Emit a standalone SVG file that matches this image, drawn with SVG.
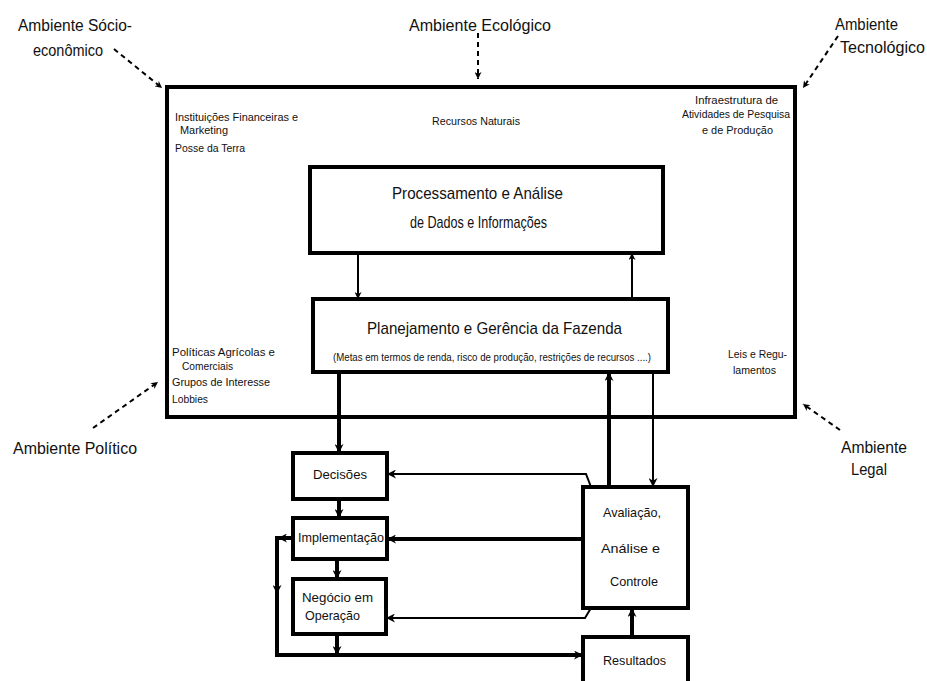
<svg xmlns="http://www.w3.org/2000/svg" width="927" height="681" viewBox="0 0 927 681">
<style>
text{font-family:"Liberation Sans",Arial,sans-serif;fill:#111}
.env{font-size:16px}
.sm{font-size:11px}
.bx{fill:#fff;stroke:#000;stroke-width:4}
.thk{fill:none;stroke:#000;stroke-width:4}
.thn{fill:none;stroke:#000;stroke-width:2}
.dash{fill:none;stroke:#000;stroke-width:2;stroke-dasharray:5 4}
</style>
<defs>
<marker id="ah" viewBox="0 0 10 10" refX="10" refY="5" markerWidth="10" markerHeight="9" markerUnits="userSpaceOnUse" orient="auto">
<path d="M0,0 L10,5 L0,10 L3,5 z" fill="#000"/>
</marker>
<marker id="ahs" viewBox="0 0 10 10" refX="10" refY="5" markerWidth="8" markerHeight="7" markerUnits="userSpaceOnUse" orient="auto">
<path d="M0,0 L10,5 L0,10 L3,5 z" fill="#000"/>
</marker>
</defs>

<g id="sistema">
<rect x="167" y="87" width="628" height="330" fill="none" stroke="#000" stroke-width="4"/>
<text class="sm" x="175" y="121" textLength="123" lengthAdjust="spacingAndGlyphs">Instituições  Financeiras  e</text>
<text class="sm" x="180" y="134" textLength="48" lengthAdjust="spacingAndGlyphs">Marketing</text>
<text class="sm" x="175" y="152" textLength="70" lengthAdjust="spacingAndGlyphs">Posse da Terra</text>
<text class="sm" x="432" y="125" textLength="88" lengthAdjust="spacingAndGlyphs">Recursos  Naturais</text>
<text class="sm" x="695" y="104" textLength="83" lengthAdjust="spacingAndGlyphs">Infraestrutura  de</text>
<text class="sm" x="682" y="118" textLength="108" lengthAdjust="spacingAndGlyphs">Atividades de Pesquisa</text>
<text class="sm" x="702" y="134" textLength="71" lengthAdjust="spacingAndGlyphs">e  de  Produção</text>
<text class="sm" x="172" y="356" textLength="103" lengthAdjust="spacingAndGlyphs">Políticas  Agrícolas  e</text>
<text class="sm" x="182" y="370" textLength="51" lengthAdjust="spacingAndGlyphs">Comerciais</text>
<text class="sm" x="172" y="386" textLength="98" lengthAdjust="spacingAndGlyphs">Grupos de Interesse</text>
<text class="sm" x="172" y="403" textLength="36" lengthAdjust="spacingAndGlyphs">Lobbies</text>
<text class="sm" x="728" y="358" textLength="59" lengthAdjust="spacingAndGlyphs">Leis  e  Regu-</text>
<text class="sm" x="733" y="374" textLength="43" lengthAdjust="spacingAndGlyphs">lamentos</text>
</g>

<g id="ambiente-socio">
<text class="env" x="18" y="31" textLength="114" lengthAdjust="spacingAndGlyphs">Ambiente Sócio-</text>
<text class="env" x="33" y="56" textLength="70" lengthAdjust="spacingAndGlyphs">econômico</text>
</g>
<g id="ambiente-ecologico">
<text class="env" x="409" y="31" textLength="142" lengthAdjust="spacingAndGlyphs">Ambiente Ecológico</text>
</g>
<g id="ambiente-tecnologico">
<text class="env" x="835" y="30" textLength="63" lengthAdjust="spacingAndGlyphs">Ambiente</text>
<text class="env" x="840" y="53" textLength="85" lengthAdjust="spacingAndGlyphs">Tecnológico</text>
</g>
<g id="ambiente-politico">
<text class="env" x="13" y="454" textLength="124" lengthAdjust="spacingAndGlyphs">Ambiente Político</text>
</g>
<g id="ambiente-legal">
<text class="env" x="841" y="453" textLength="66" lengthAdjust="spacingAndGlyphs">Ambiente</text>
<text class="env" x="851" y="475" textLength="36" lengthAdjust="spacingAndGlyphs">Legal</text>
</g>

<g id="processamento">
<rect class="bx" x="310" y="167" width="353" height="86" stroke-width="5"/>
<text x="392" y="199" font-size="17" textLength="171" lengthAdjust="spacingAndGlyphs">Processamento  e  Análise</text>
<text x="410" y="228" font-size="17" textLength="137" lengthAdjust="spacingAndGlyphs">de Dados e Informações</text>
</g>

<g id="planejamento">
<rect class="bx" x="313" y="299" width="355" height="73"/>
<text x="367" y="334" font-size="17" textLength="255" lengthAdjust="spacingAndGlyphs">Planejamento e Gerência da  Fazenda</text>
<text x="333" y="361" font-size="11" textLength="318" lengthAdjust="spacingAndGlyphs">(Metas em termos de renda,  risco de produção, restrições de recursos ....)</text>
</g>

<g id="decisoes">
<rect class="bx" x="293" y="453" width="94" height="46"/>
<text x="313" y="479" font-size="13" textLength="54" lengthAdjust="spacingAndGlyphs">Decisões</text>
</g>
<g id="implementacao">
<rect class="bx" x="293" y="518" width="94" height="41"/>
<text x="298" y="542" font-size="13" textLength="86" lengthAdjust="spacingAndGlyphs">Implementação</text>
</g>
<g id="negocio">
<rect class="bx" x="293" y="579" width="93" height="55"/>
<text x="302" y="602" font-size="13" textLength="71" lengthAdjust="spacingAndGlyphs">Negócio  em</text>
<text x="305" y="620" font-size="13" textLength="55" lengthAdjust="spacingAndGlyphs">Operação</text>
</g>
<g id="avaliacao">
<rect class="bx" x="583" y="487" width="105" height="121"/>
<text x="603" y="517" font-size="13" textLength="58" lengthAdjust="spacingAndGlyphs">Avaliação,</text>
<text x="601" y="553" font-size="13" textLength="59" lengthAdjust="spacingAndGlyphs">Análise   e</text>
<text x="610" y="586" font-size="13" textLength="48" lengthAdjust="spacingAndGlyphs">Controle</text>
</g>
<g id="resultados">
<rect class="bx" x="583" y="637" width="105" height="50"/>
<text x="603" y="665" font-size="13" textLength="63" lengthAdjust="spacingAndGlyphs">Resultados</text>
</g>

<g id="connectors">
<path class="dash" d="M114,49 L162,88" marker-end="url(#ahs)"/>
<path class="dash" d="M478,33 L478,79" marker-end="url(#ahs)"/>
<path class="dash" d="M838,36 L803,88" marker-end="url(#ahs)"/>
<path class="dash" d="M93,428 L158,382" marker-end="url(#ahs)"/>
<path class="dash" d="M840,430 L803,404" marker-end="url(#ahs)"/>

<path class="thn" d="M358,253 V299" marker-end="url(#ahs)"/>
<path class="thn" d="M632,299 V253" marker-end="url(#ahs)"/>

<path class="thk" d="M339,372 V453" marker-end="url(#ah)"/>
<path class="thk" d="M609,487 V372" marker-end="url(#ah)"/>
<path class="thn" d="M653,372 V487" marker-end="url(#ah)"/>

<path class="thk" d="M339,499 V518" marker-end="url(#ah)"/>
<path class="thk" d="M337,559 V579" marker-end="url(#ah)"/>
<path class="thk" d="M337,634 V655" marker-end="url(#ah)"/>

<path class="thn" d="M591,487 L586,474 H387" marker-end="url(#ah)"/>
<path class="thk" d="M583,539 H387" marker-end="url(#ah)"/>
<path class="thn" d="M591,608 L585,618 H386" marker-end="url(#ah)"/>

<path class="thk" d="M293,538 H278" marker-end="url(#ah)"/>
<path class="thk" d="M277,536 V594" marker-end="url(#ah)"/>
<path class="thk" d="M277,590 V655 H583" marker-end="url(#ah)"/>

<path class="thk" d="M632,637 V608" marker-end="url(#ah)"/>
</g>
</svg>
